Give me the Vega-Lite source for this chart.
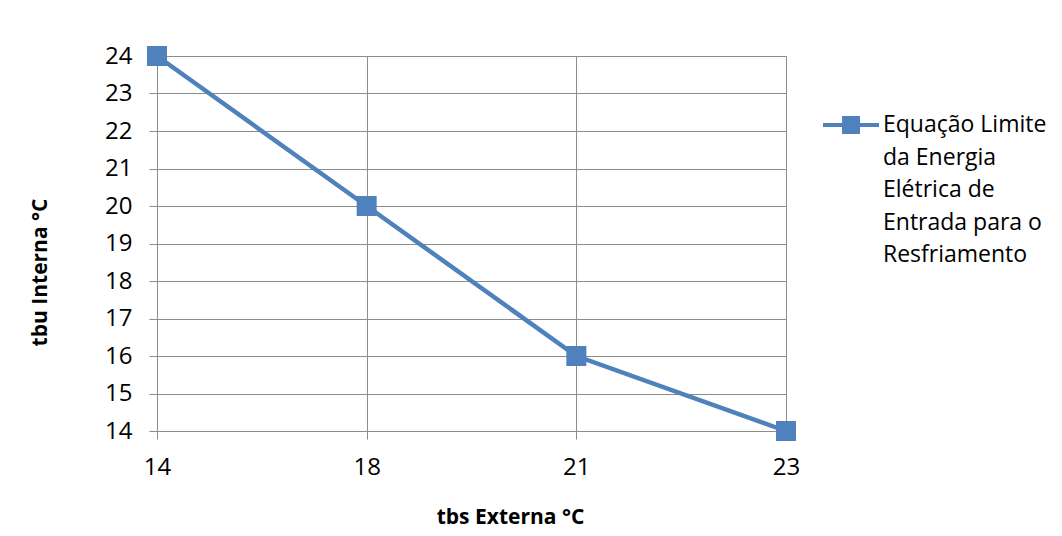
{
  "$schema": "https://vega.github.io/schema/vega-lite/v6.json",
  "autosize": "none",
  "width": 629,
  "height": 375,
  "padding": {"left": 157, "top": 56, "right": 276, "bottom": 105},
  "background": "white",
  "config": {
    "font": "Open Sans",
    "view": {"stroke": null},
    "axis": {
      "labelFont": "Open Sans",
      "labelFontSize": 24,
      "labelColor": "#000000",
      "titleFont": "Open Sans",
      "titleFontSize": 21,
      "titleFontWeight": "bold",
      "titleColor": "#000000",
      "gridColor": "#8C8C8C",
      "gridWidth": 1,
      "gridOpacity": 1,
      "domainColor": "#8C8C8C",
      "domainWidth": 1,
      "tickColor": "#8C8C8C",
      "tickSize": 8,
      "tickWidth": 1
    }
  },
  "data": {
    "values": [
      {"tbs": "14", "tbu": 24, "serie": "Equação Limite da Energia Elétrica de Entrada para o Resfriamento"},
      {"tbs": "18", "tbu": 20, "serie": "Equação Limite da Energia Elétrica de Entrada para o Resfriamento"},
      {"tbs": "21", "tbu": 16, "serie": "Equação Limite da Energia Elétrica de Entrada para o Resfriamento"},
      {"tbs": "23", "tbu": 14, "serie": "Equação Limite da Energia Elétrica de Entrada para o Resfriamento"}
    ]
  },
  "encoding": {
    "x": {
      "field": "tbs",
      "type": "ordinal",
      "sort": null,
      "scale": {"type": "point", "padding": 0},
      "axis": {
        "title": "tbs Externa °C",
        "labelAngle": 0,
        "labelPadding": 16,
        "grid": true,
        "titleX": 353,
        "titleY": 92,
        "titleAnchor": "middle",
        "titleAlign": "center",
        "titleBaseline": "alphabetic"
      }
    },
    "y": {
      "field": "tbu",
      "type": "quantitative",
      "scale": {"domain": [14, 24], "nice": false, "zero": false},
      "axis": {
        "title": "tbu Interna °C",
        "values": [14, 15, 16, 17, 18, 19, 20, 21, 22, 23, 24],
        "labelPadding": 17,
        "titleX": -111,
        "titleY": 216,
        "titleAngle": -90,
        "titleAlign": "center",
        "titleBaseline": "alphabetic"
      }
    },
    "color": {
      "field": "serie",
      "type": "nominal",
      "scale": {"range": ["#4F81BD"]},
      "legend": {
        "title": null,
        "orient": "none",
        "legendX": 666,
        "legendY": 41,
        "padding": 0,
        "labelFont": "Open Sans",
        "labelFontSize": 23,
        "labelColor": "#000000",
        "labelLimit": 400,
        "labelOffset": 4,
        "symbolType": "M-1,-0.075H1V0.075H-1Z M-0.32,-0.32H0.32V0.32H-0.32Z",
        "symbolSize": 3136,
        "labelExpr": "['Equação Limite', 'da Energia', 'Elétrica de', 'Entrada para o', 'Resfriamento']",
        "encode": {
          "symbols": {
            "update": {
              "fill": {"value": "#4F81BD"},
              "stroke": {"value": "transparent"},
              "strokeWidth": {"value": 0}
            }
          },
          "labels": {
            "update": {
              "lineHeight": {"value": 32.5}
            }
          }
        }
      }
    }
  },
  "layer": [
    {
      "mark": {"type": "line", "strokeWidth": 4.5}
    },
    {
      "mark": {"type": "point", "shape": "square", "filled": true, "size": 400, "opacity": 1}
    }
  ]
}
